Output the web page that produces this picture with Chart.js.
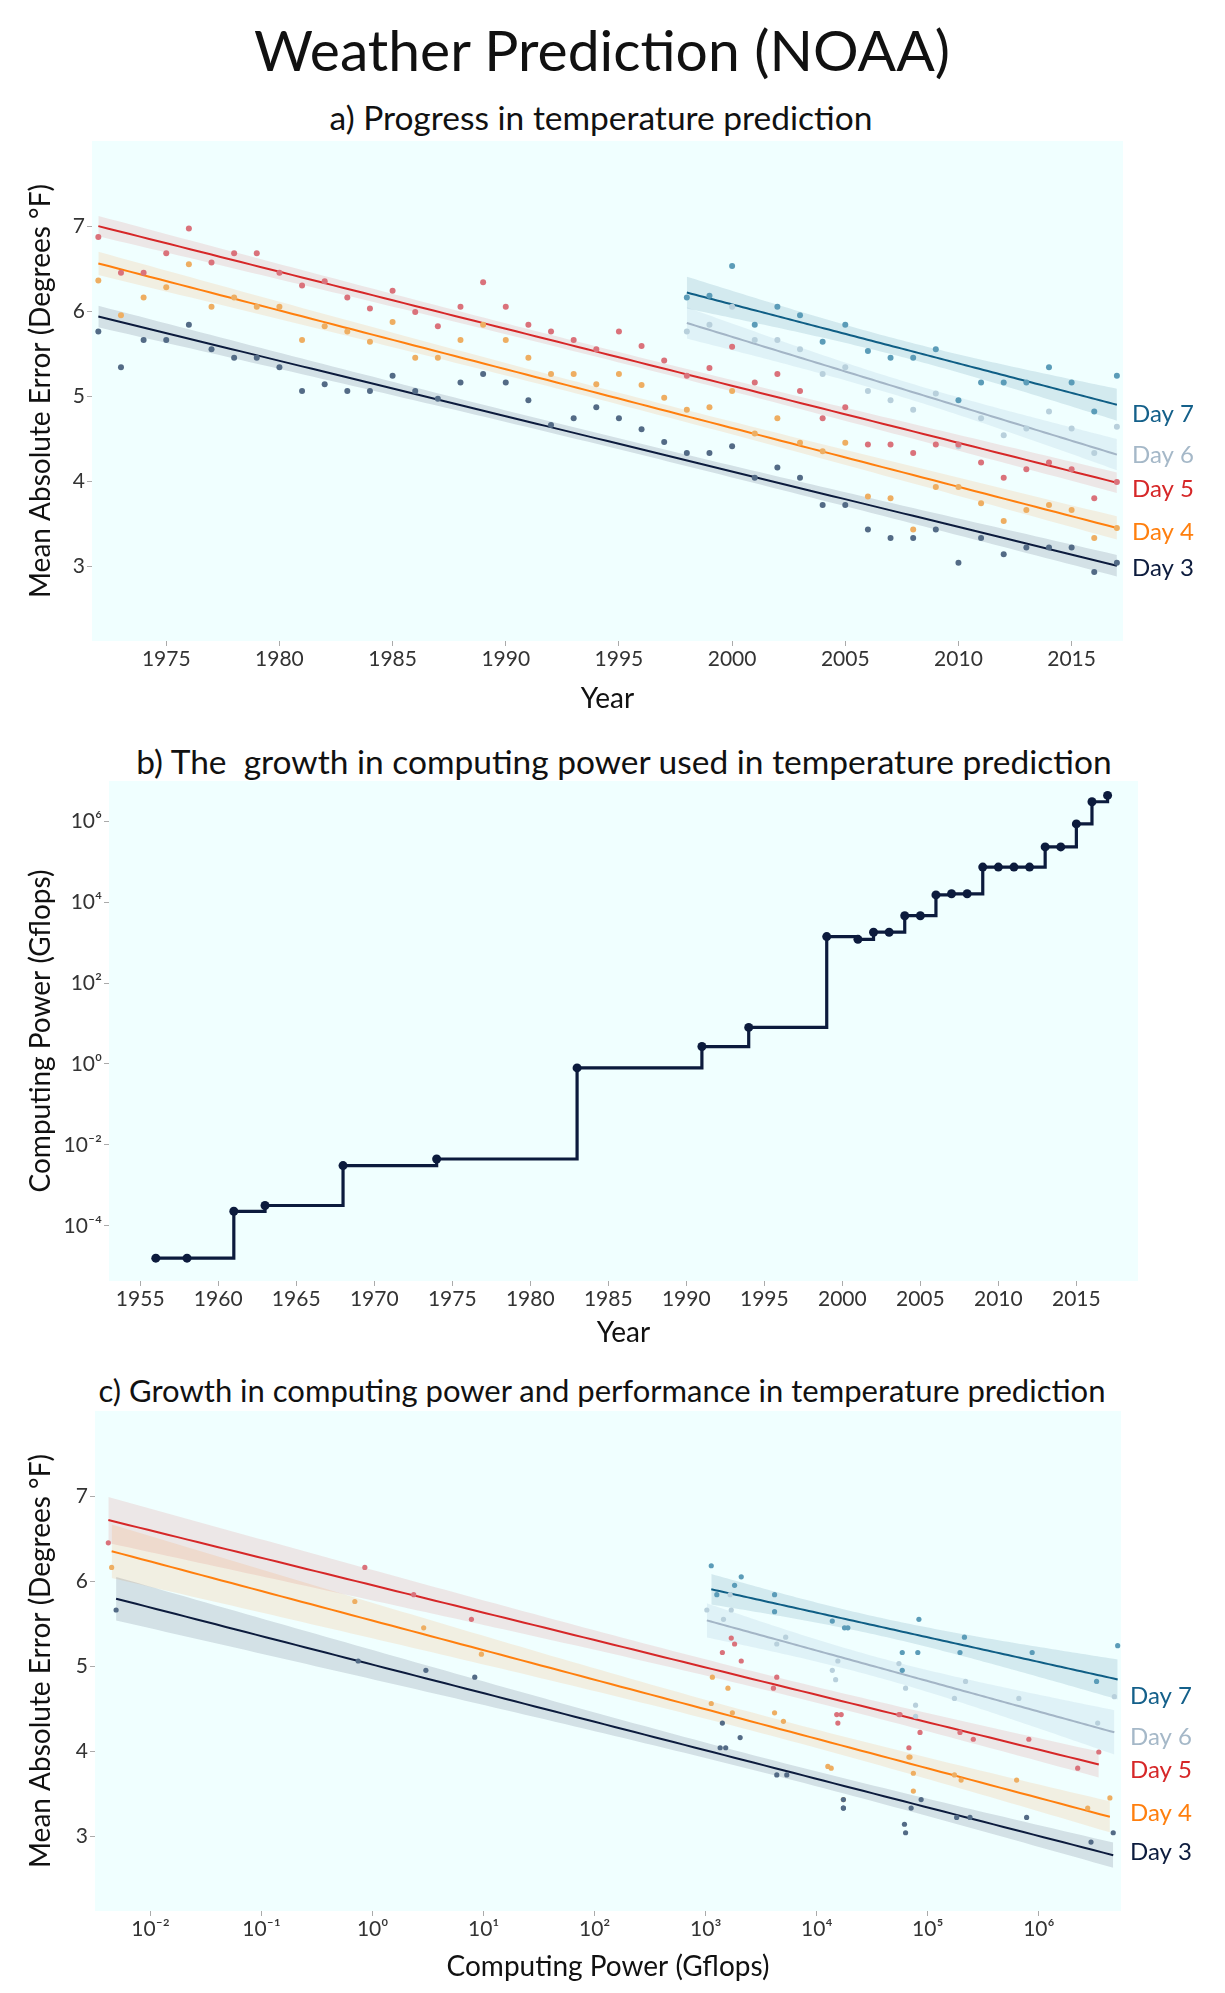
<!DOCTYPE html>
<html><head><meta charset="utf-8">
<script src="https://cdn.jsdelivr.net/npm/chart.js@4.4.1/dist/chart.umd.min.js"></script>
<style>
body{margin:0;background:#fff;}
#wrap{position:relative;width:1225px;height:1993px;font-family:Lato,"Noto Sans",sans-serif;color:#111;overflow:hidden;}
.t{position:absolute;white-space:pre;text-align:center;width:1200px;}
canvas{position:absolute;left:0;}
</style></head><body>
<div id="wrap">
<div class="t" style="left:2px;top:15px;font-size:57px;line-height:68px;">Weather Prediction (NOAA)</div>
<div class="t" style="left:1px;top:97px;font-size:33.5px;line-height:40px;">a) Progress in temperature prediction</div>
<div class="t" style="left:24px;top:741px;font-size:33.5px;line-height:40px;">b) The  growth in computing power used in temperature prediction</div>
<div class="t" style="left:2px;top:1372px;font-size:31px;line-height:37px;">c) Growth in computing power and performance in temperature prediction</div>
<canvas id="cA" width="1225" height="590" style="top:135px"></canvas>
<canvas id="cB" width="1225" height="580" style="top:775px"></canvas>
<canvas id="cC" width="1225" height="588" style="top:1405px"></canvas>
</div>
<script>
// ---------------- DATA ----------------
const years = [1972,1973,1974,1975,1976,1977,1978,1979,1980,1981,
  1982,1983,1984,1985,1986,1987,1988,1989,1990,1991,
  1992,1993,1994,1995,1996,1997,1998,1999,2000,2001,
  2002,2003,2004,2005,2006,2007,2008,2009,2010,2011,
  2012,2013,2014,2015,2016,2017];
const day3 = [5.76,5.34,5.66,5.66,5.84,5.55,5.45,5.45,5.34,5.06,
  5.14,5.06,5.06,5.24,5.06,4.97,5.16,5.26,5.16,4.95,
  4.66,4.74,4.87,4.74,4.61,4.46,4.33,4.33,4.41,4.04,
  4.16,4.04,3.72,3.72,3.43,3.33,3.33,3.43,3.04,3.33,
  3.14,3.22,3.22,3.22,2.93,3.04];
const day4 = [6.36,5.95,6.16,6.28,6.55,6.05,6.16,6.05,6.05,5.66,
  5.82,5.76,5.64,5.87,5.45,5.45,5.66,5.84,5.66,5.45,
  5.26,5.26,5.14,5.26,5.13,4.98,4.84,4.87,5.06,4.56,
  4.74,4.45,4.35,4.45,3.82,3.80,3.43,3.93,3.93,3.74,
  3.53,3.66,3.72,3.66,3.33,3.45];
const day5 = [6.87,6.45,6.45,6.68,6.97,6.57,6.68,6.68,6.45,6.30,
  6.35,6.16,6.03,6.24,5.99,5.82,6.05,6.34,6.05,5.84,
  5.76,5.66,5.55,5.76,5.59,5.42,5.24,5.33,5.58,5.16,
  5.26,5.06,4.74,4.87,4.43,4.43,4.33,4.43,4.43,4.22,
  4.04,4.14,4.22,4.14,3.80,3.99];
const years67 = [1998,1999,2000,2001,2002,2003,2004,2005,2006,2007,
  2008,2009,2010,2011,2012,2013,2014,2015,2016,2017];
const day6 = [5.76,5.84,6.05,5.66,5.66,5.55,5.26,5.34,5.06,4.95,
  4.84,5.03,4.41,4.74,4.54,4.62,4.82,4.62,4.33,4.64];
const day7 = [6.16,6.18,6.53,5.84,6.05,5.95,5.64,5.84,5.53,5.45,
  5.45,5.55,4.95,5.16,5.16,5.16,5.34,5.16,4.82,5.24];

// panel b: computing power by year
const computeYears = [1956,1958,1961,1963,1968,1974,1983,1991,1994,1999,
  2001,2002,2003,2004,2005,2006,2007,2008,2009,2010,
  2011,2012,2013,2014,2015,2016,2017];
const computeGflops = [1.6e-5,1.6e-5,2.3e-4,3.2e-4,3.1e-3,4.5e-3,0.8,2.7,8,1400,
  1200,1800,1800,4600,4600,15000,16000,16000,73000,73000,
  73000,73000,230000,230000,850000,3.0e6,4.3e6];

// panel c: years shown, and plotted (jittered) computing power, log10 Gflops, read per point
const yearsC35 = [1974,1983,1991,1994,1999,2001,2002,2003,2004,2005,2006,
  2007,2008,2009,2010,2011,2012,2013,2014,2015,2016,2017];
const yearsC67 = [1999,2001,2002,2003,2004,2005,2006,2007,2008,2009,
  2010,2011,2012,2013,2014,2015,2016,2017];
const logPowerC3 = [-2.31,-0.13,0.48,0.92,3.15,3.13,3.31,3.18,3.64,3.73,4.24,
  4.24,4.24,4.94,4.80,4.85,4.79,5.26,5.38,5.89,6.47,6.67];
const logPowerC4 = [-2.35,-0.16,0.46,0.98,3.06,3.05,3.20,3.24,3.70,3.62,4.10,
  4.13,4.24,4.83,4.84,4.87,4.87,5.30,5.24,5.80,6.44,6.64];
const logPowerC5 = [-2.38,-0.07,0.37,0.89,3.23,3.15,3.26,3.32,3.61,3.64,4.18,
  4.22,4.19,4.74,4.75,4.93,4.83,5.41,5.29,5.91,6.35,6.54];
const logPowerC6 = [3.22,3.01,3.23,3.16,3.64,3.72,4.19,4.14,4.17,4.74,
  4.89,4.80,4.89,5.24,5.34,5.82,6.53,6.68];
const logPowerC7 = [3.05,3.10,3.32,3.26,3.62,3.62,4.14,4.25,4.28,4.92,
  4.77,4.77,4.91,5.29,5.33,5.94,6.52,6.71];

const dayNames = ['Day 3','Day 4','Day 5','Day 6','Day 7'];
const yearTicksA = [1975,1980,1985,1990,1995,2000,2005,2010,2015];
const yearTicksB = [1955,1960,1965,1970,1975,1980,1985,1990,1995,2000,2005,2010,2015];
const maeTicks = [3,4,5,6,7];
const powerTicksB = [1e-4,1e-2,1,1e2,1e4,1e6];
const powerTicksC = [1e-2,1e-1,1,1e1,1e2,1e3,1e4,1e5,1e6];

// ---------------- STYLE ----------------
const styles = [
  {line:'#0c1b3d', pt:'#536b86', band:'rgba(12,27,61,0.13)', text:'#0c1b3d'},
  {line:'#ff7f0e', pt:'#eeae62', band:'rgba(255,127,14,0.12)', text:'#ff7f0e'},
  {line:'#d62728', pt:'#da727b', band:'rgba(214,39,40,0.11)', text:'#d62728'},
  {line:'#a3b5c6', pt:'#b8d0dc', band:'rgba(150,185,210,0.18)', text:'#a5b8c8'},
  {line:'#0f5e85', pt:'#5b9cb8', band:'rgba(15,94,133,0.13)', text:'#14608a'}
];
const FONT = 'Lato';

// ---------------- HELPERS ----------------
const SUP = {'-':'\u207B','0':'\u2070','1':'\u00B9','2':'\u00B2','3':'\u00B3','4':'\u2074','5':'\u2075','6':'\u2076','7':'\u2077','8':'\u2078','9':'\u2079'};
function pow10Label(v){ const e = Math.round(Math.log10(v)); return '10' + String(e).split('').map(c=>SUP[c]).join(''); }
function tq(df){ return 1.96 + 2.37/df + 2.8/(df*df); }
function linFit(xs, ys, steps){
  const n = xs.length;
  const mx = xs.reduce((a,b)=>a+b,0)/n, my = ys.reduce((a,b)=>a+b,0)/n;
  let sxx=0, sxy=0;
  for(let i=0;i<n;i++){ sxx += (xs[i]-mx)**2; sxy += (xs[i]-mx)*(ys[i]-my); }
  const b = sxy/sxx, a = my - b*mx;
  let sse=0; for(let i=0;i<n;i++) sse += (ys[i]-a-b*xs[i])**2;
  const s = Math.sqrt(sse/(n-2)), t = tq(n-2);
  const x0 = Math.min(...xs), x1 = Math.max(...xs);
  const fit=[], lo=[], hi=[];
  for(let k=0;k<=steps;k++){
    const x = x0+(x1-x0)*k/steps, yh = a+b*x;
    const se = s*Math.sqrt(1/n + (x-mx)**2/sxx);
    fit.push({x,y:yh}); lo.push({x,y:yh-t*se}); hi.push({x,y:yh+t*se});
  }
  return {fit, lo, hi};
}
function valuesFor(yrsSel, yrs, vals){ return yrsSel.map(yr => vals[yrs.indexOf(yr)]); }
function maeDatasets(series, logX, ptR){
  const out=[];
  series.forEach((s,idx)=>{
    const st = styles[idx];
    const fx = s.x.map(v=> logX? Math.log10(v): v);
    const r = linFit(fx, s.y, 100);
    const back = p => ({x: logX? Math.pow(10,p.x): p.x, y:p.y});
    out.push({data:r.lo.map(back), borderColor:'transparent', borderWidth:0, pointRadius:0, fill:false, order:3});
    out.push({data:r.hi.map(back), borderColor:'transparent', borderWidth:0, pointRadius:0, fill:'-1', backgroundColor:st.band, order:3});
    out.push({data:r.fit.map(back), borderColor:st.line, borderWidth:2, pointRadius:0, fill:false, order:2});
    out.push({data:s.x.map((v,i)=>({x:v,y:s.y[i]})), showLine:false, pointRadius:ptR, pointBackgroundColor:st.pt, pointBorderWidth:0, order:1});
  });
  return out;
}

const bgPlugin = {
  id:'plotBg',
  beforeDraw(chart){
    const {ctx, chartArea:a} = chart;
    ctx.save(); ctx.fillStyle = '#f0ffff';
    ctx.fillRect(a.left, a.top, a.right-a.left, a.bottom-a.top);
    ctx.restore();
  }
};
const labelPlugin = {
  id:'endLabels',
  afterDraw(chart, args, opts){
    if(!opts || !opts.items) return;
    const {ctx, chartArea:a, scales} = chart;
    ctx.save();
    ctx.font = '24px ' + FONT; ctx.textAlign='left'; ctx.textBaseline='middle';
    opts.items.forEach(it=>{ ctx.fillStyle = it.color; ctx.fillText(it.text, a.right + 9, scales.y.getPixelForValue(it.y)); });
    ctx.restore();
  }
};
Chart.register(bgPlugin, labelPlugin);

function tickCfg(){ return {font:{family:FONT,size:21}, color:'#333', padding:1, maxRotation:0, autoSkip:false}; }
function gridCfg(){ return {drawOnChartArea:false, drawTicks:true, tickLength:5, tickColor:'#aaa'}; }
function titleCfg(text){ return {display:true, text, font:{family:FONT,size:28}, color:'#111', padding:{top:0,bottom:0}}; }
function noPad(s){ s.paddingTop=0; s.paddingBottom=0; s.paddingLeft=0; s.paddingRight=0; }

function baseOptions(pad, yW, xH, xScale, yScale, labelItems){
  return {
    responsive:false, animation:false, devicePixelRatio:1,
    layout:{padding:pad},
    plugins:{legend:{display:false}, tooltip:{enabled:false}, endLabels:{items:labelItems}},
    scales:{
      x:Object.assign({afterFit:s=>{s.height=xH; noPad(s);}, ticks:tickCfg(), grid:gridCfg(), border:{display:false}}, xScale),
      y:Object.assign({afterFit:s=>{s.width=yW; noPad(s);}, ticks:Object.assign(tickCfg(),{padding:2}), grid:gridCfg(), border:{display:false}}, yScale)
    }
  };
}
function labelItems(ys){ return dayNames.map((n,i)=>({text:n, color:styles[i].text, y:ys[i]})); }

// ---------------- PANEL A ----------------
const seriesA = [
  {x:years, y:day3},{x:years, y:day4},{x:years, y:day5},{x:years67, y:day6},{x:years67, y:day7}
];
new Chart(document.getElementById('cA'), {
  type:'line',
  data:{datasets:maeDatasets(seriesA, false, 3)},
  options:baseOptions({top:6,bottom:9,left:24,right:102}, 68, 75,
    {type:'linear', min:1971.72, max:2017.27,
     afterBuildTicks:s=>{s.ticks = yearTicksA.map(v=>({value:v}));},
     ticks:Object.assign(tickCfg(),{callback:v=>String(v)}),
     title:titleCfg('Year')},
    {type:'linear', min:2.12, max:8.0,
     afterBuildTicks:s=>{s.ticks = maeTicks.map(v=>({value:v}));},
     title:titleCfg('Mean Absolute Error (Degrees \u00B0F)')},
    labelItems([2.97,3.40,3.91,4.31,4.79]))
});

// ---------------- PANEL B ----------------
new Chart(document.getElementById('cB'), {
  type:'line',
  data:{datasets:[{
    data:computeYears.map((yr,i)=>({x:yr, y:computeGflops[i]})),
    stepped:true, borderColor:'#0c1b3d', borderWidth:3.2, fill:false,
    pointRadius:4.5, pointBackgroundColor:'#0c1b3d', pointBorderWidth:0
  }]},
  options:baseOptions({top:6,bottom:5,left:24,right:87}, 85, 69,
    {type:'linear', min:1953.0, max:2018.95,
     afterBuildTicks:s=>{s.ticks = yearTicksB.map(v=>({value:v}));},
     ticks:Object.assign(tickCfg(),{callback:v=>String(v)}),
     title:titleCfg('Year')},
    {type:'logarithmic', min:Math.pow(10,-5.36), max:Math.pow(10,6.99),
     afterBuildTicks:s=>{s.ticks = powerTicksB.map(v=>({value:v}));},
     ticks:Object.assign(tickCfg(),{padding:2, callback:v=>pow10Label(v)}),
     title:titleCfg('Computing Power (Gflops)')},
    null)
});

// ---------------- PANEL C ----------------
const toPow = arr => arr.map(v=>Math.pow(10,v));
const seriesC = [
  {x:toPow(logPowerC3), y:valuesFor(yearsC35, years, day3)},
  {x:toPow(logPowerC4), y:valuesFor(yearsC35, years, day4)},
  {x:toPow(logPowerC5), y:valuesFor(yearsC35, years, day5)},
  {x:toPow(logPowerC6), y:valuesFor(yearsC67, years67, day6)},
  {x:toPow(logPowerC7), y:valuesFor(yearsC67, years67, day7)}
];
new Chart(document.getElementById('cC'), {
  type:'line',
  data:{datasets:maeDatasets(seriesC, true, 2.6)},
  options:baseOptions({top:6,bottom:9,left:24,right:104}, 71, 73,
    {type:'logarithmic', min:Math.pow(10,-2.5), max:Math.pow(10,6.74),
     afterBuildTicks:s=>{s.ticks = powerTicksC.map(v=>({value:v}));},
     ticks:Object.assign(tickCfg(),{callback:v=>pow10Label(v)}),
     title:titleCfg('Computing Power (Gflops)')},
    {type:'linear', min:2.12, max:8.0,
     afterBuildTicks:s=>{s.ticks = maeTicks.map(v=>({value:v}));},
     title:titleCfg('Mean Absolute Error (Degrees \u00B0F)')},
    labelItems([2.81,3.27,3.77,4.16,4.65]))
});
</script>
</body></html>
